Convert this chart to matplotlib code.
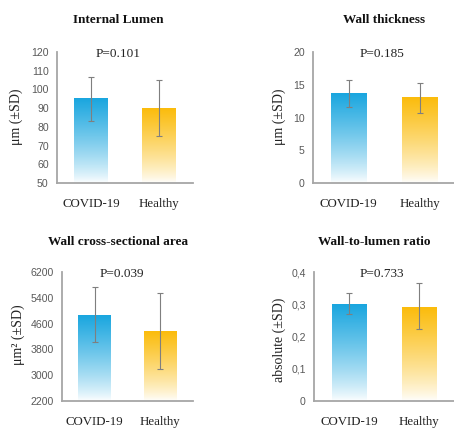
import numpy as np
import matplotlib
matplotlib.use("Agg")
import matplotlib.pyplot as plt
from matplotlib.colors import LinearSegmentedColormap

groups = ["COVID-19", "Healthy"]
titles = ["Internal Lumen", "Wall thickness", "Wall cross-sectional area", "Wall-to-lumen ratio"]
ylabels = ["μm (±SD)", "μm (±SD)", "μm² (±SD)", "absolute (±SD)"]
pvalues = ["P=0.101", "P=0.185", "P=0.039", "P=0.733"]

means = [[94.9, 89.7], [13.7, 13.0], [4855, 4355], [0.30, 0.29]]
err_low = [[83.3, 75.1], [11.6, 10.7], [4014, 3204], [0.271, 0.222]]
err_high = [[106.4, 104.8], [15.8, 15.2], [5727, 5553], [0.336, 0.366]]

yticks = [[50, 60, 70, 80, 90, 100, 110, 120], [0, 5, 10, 15, 20],
          [2200, 3000, 3800, 4600, 5400, 6200], [0, 0.1, 0.2, 0.3, 0.4]]
yticklabels = [["50", "60", "70", "80", "90", "100", "110", "120"],
               ["0", "5", "10", "15", "20"],
               ["2200", "3000", "3800", "4600", "5400", "6200"],
               ["0", "0,1", "0,2", "0,3", "0,4"]]

bar_colors = ["#1aa6df", "#fbbc0c"]

W, H = 454, 429
fig = plt.figure(figsize=(W / 100, H / 100), dpi=100)

# axes boxes in pixels: left, right, top, bottom
boxes = [(57, 193, 52, 183), (313, 455, 52, 183), (62, 193, 272, 401), (314, 454, 272, 401)]
title_pos = [(118, 20), (384, 20), (118, 242), (374, 242)]
ylabel_pos = [(16, 117), (279, 117), (18, 335), (279, 340)]
p_pos = [0.45, 0.486, 0.46, 0.486]

serif = "Liberation Serif"
sans = "Liberation Sans"

for i in range(4):
    l, r, t, b = boxes[i]
    ax = fig.add_axes([l / W, 1 - b / H, (r - l) / W, (b - t) / H])
    ymin, ymax = yticks[i][0], yticks[i][-1]
    x = np.arange(len(groups))
    bars = ax.bar(x, np.array(means[i]) - ymin, bottom=ymin, width=0.5,
                  facecolor="none", edgecolor="none")
    for bar, col in zip(bars, bar_colors):
        cmap = LinearSegmentedColormap.from_list("g", ["#ffffff", col])
        grad = np.linspace(0, 1, 256).reshape(-1, 1) ** 0.8
        bx, by = bar.get_x(), bar.get_y()
        bw, bh = bar.get_width(), bar.get_height()
        ax.imshow(grad, cmap=cmap, vmin=0, vmax=1, origin="lower",
                  extent=[bx, bx + bw, by, by + bh], aspect="auto", zorder=1)
    yerr = [np.array(means[i]) - np.array(err_low[i]), np.array(err_high[i]) - np.array(means[i])]
    ax.errorbar(x, means[i], yerr=yerr, fmt="none", ecolor="#7f7f7f",
                elinewidth=0.8, capsize=2, capthick=0.8, zorder=3)
    ax.set_xlim(-0.5, 1.5)
    ax.set_ylim(ymin, ymax)
    ax.set_yticks(yticks[i])
    ax.set_yticklabels(yticklabels[i], fontsize=7.6, family=sans, color="#595959")
    ax.set_xticks(x)
    ax.set_xticklabels(groups, fontsize=9.3, family=serif, color="#222222")
    for lab in ax.get_xticklabels():
        lab.set_va("baseline")
    ax.tick_params(axis="both", length=0)
    ax.tick_params(axis="y", pad=6)
    ax.tick_params(axis="x", pad=17)
    for s in ["top", "right"]:
        ax.spines[s].set_visible(False)
    for s in ["left", "bottom"]:
        ax.spines[s].set_color("#a6a6a6")
        ax.spines[s].set_linewidth(1.3)
    ax.text(p_pos[i], 0.985, pvalues[i], transform=ax.transAxes, ha="center", va="center",
            fontsize=9.5, family=serif, color="#222222")
    ax.set_ylabel(ylabels[i], fontsize=10, family=serif, color="#222222")
    ax.yaxis.set_label_coords(ylabel_pos[i][0] / W, 1 - ylabel_pos[i][1] / H,
                              transform=fig.transFigure)
    ax.yaxis.label.set_va("center")
    fig.text(title_pos[i][0] / W, 1 - title_pos[i][1] / H, titles[i], ha="center", va="center",
             fontsize=9.5, family=serif, weight="bold", color="#111111")

fig.savefig("out.png", dpi=100)
